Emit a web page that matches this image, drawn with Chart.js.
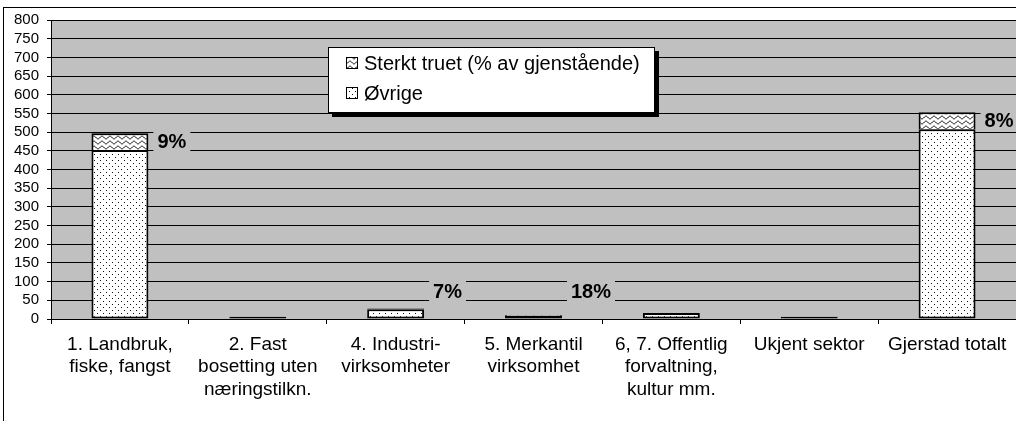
<!DOCTYPE html>
<html><head><meta charset="utf-8">
<script src="https://cdn.jsdelivr.net/npm/chart.js@4/dist/chart.umd.min.js"></script>
<style>html,body{margin:0;padding:0;background:#fff;overflow:hidden}#wrap{width:1016px;height:421px;position:relative}</style>
</head><body><div id="wrap"><canvas id="c" width="1016" height="421"></canvas></div>
<script>
// ---- data ----
const categories = [
  ['1. Landbruk,', 'fiske, fangst'],
  ['2. Fast', 'bosetting uten', 'næringstilkn.'],
  ['4. Industri-', 'virksomheter'],
  ['5. Merkantil', 'virksomhet'],
  ['6, 7. Offentlig', 'forvaltning,', 'kultur mm.'],
  ['Ukjent sektor'],
  ['Gjerstad totalt']
];
const ovrige      = [452, 6, 26, 9, 16, 6, 508];
const sterktTruet = [45, 0, 2, 2, 0, 0, 45];
const pctLabels   = ['9%', '', '7%', '18%', '', '', '8%'];
const nameOvrige  = 'Øvrige';
const nameTruet   = 'Sterkt truet (% av gjenstående)';
const yMin = 0, yMax = 800, yStep = 50;

const FONT = "'Liberation Sans', Arial, sans-serif";
const canvas = document.getElementById('c');
const ctx0 = canvas.getContext('2d');

function makeDots(ctx) {
  const c = document.createElement('canvas'); c.width = 6; c.height = 6;
  const g = c.getContext('2d');
  g.fillStyle = '#fff'; g.fillRect(0, 0, 6, 6);
  g.fillStyle = '#111'; g.fillRect(1, 1, 1, 1); g.fillRect(4, 4, 1, 1);
  return ctx.createPattern(c, 'repeat');
}
function makeWaves(ctx) {
  const w = 8, h = 5;
  const c = document.createElement('canvas'); c.width = w; c.height = h;
  const g = c.getContext('2d');
  g.fillStyle = '#fff'; g.fillRect(0, 0, w, h);
  g.strokeStyle = '#000'; g.lineWidth = 1;
  g.beginPath();
  for (let x = -1; x <= w + 1; x += 0.5) {
    const y = 2.5 + 1.4 * Math.sin(2 * Math.PI * x / w);
    if (x === -1) g.moveTo(x, y); else g.lineTo(x, y);
  }
  g.stroke();
  return ctx.createPattern(c, 'repeat');
}
const dotsPattern = makeDots(ctx0);
const wavePattern = makeWaves(ctx0);

const backgroundPlugin = {
  id: 'bg',
  beforeDraw(chart) {
    const { ctx, chartArea: a } = chart;
    ctx.save();
    ctx.fillStyle = '#fff';
    ctx.fillRect(0, 0, chart.width, chart.height);
    ctx.strokeStyle = '#000'; ctx.lineWidth = 1;
    ctx.strokeRect(3.5, 7.5, 2000, 2000);
    ctx.fillStyle = '#c0c0c0';
    ctx.fillRect(a.left, a.top, a.right - a.left, a.bottom - a.top);
    ctx.restore();
  }
};

const pctPlugin = {
  id: 'pct',
  afterDatasetsDraw(chart) {
    const { ctx } = chart;
    const meta = chart.getDatasetMeta(1);
    const y0 = chart.scales.y.getPixelForValue(0);
    ctx.save();
    ctx.font = 'bold 20px ' + FONT;
    ctx.textBaseline = 'middle';
    ctx.textAlign = 'left';
    pctLabels.forEach((txt, i) => {
      if (!txt) return;
      const el = meta.data[i];
      const center = (el.y + el.base) / 2;
      const y = Math.min(center, y0 - 28);
      const x = el.x + el.width / 2 + 9;
      const tw = ctx.measureText(txt).width;
      ctx.fillStyle = '#c0c0c0';
      ctx.fillRect(x - 4, y - 11, tw + 8, 22);
      ctx.fillStyle = '#000';
      ctx.fillText(txt, x, y + 1);
    });
    ctx.restore();
  }
};

const legendPlugin = {
  id: 'customLegend',
  afterDraw(chart) {
    const { ctx } = chart;
    const bx = 328, by = 47, bw = 327, bh = 66;
    ctx.save();
    ctx.fillStyle = '#000';
    ctx.fillRect(bx + 4, by + 4, bw, bh);
    ctx.fillStyle = '#fff';
    ctx.fillRect(bx, by, bw, bh);
    ctx.strokeStyle = '#000'; ctx.lineWidth = 1;
    ctx.strokeRect(bx + 0.5, by + 0.5, bw - 1, bh - 1);
    const items = chart.data.datasets.slice().reverse();
    ctx.font = '20px ' + FONT;
    ctx.textBaseline = 'middle';
    items.forEach((ds, k) => {
      const cy = by + 16 + k * 30;
      ctx.fillStyle = ds.backgroundColor;
      ctx.fillRect(346, cy - 6, 12, 12);
      ctx.strokeStyle = '#000';
      ctx.strokeRect(346.5, cy - 5.5, 11, 11);
      ctx.fillStyle = '#000';
      ctx.fillText(ds.label, 364, cy + 1);
    });
    ctx.restore();
  }
};

new Chart(canvas, {
  type: 'bar',
  data: {
    labels: categories,
    datasets: [
      { label: nameOvrige, data: ovrige, backgroundColor: dotsPattern, borderColor: '#000', borderWidth: 2, borderSkipped: false },
      { label: nameTruet, data: sterktTruet, backgroundColor: wavePattern, borderColor: '#000', borderWidth: 2 }
    ]
  },
  options: {
    responsive: false,
    devicePixelRatio: 1,
    animation: false,
    layout: { padding: { top: 20, left: 0, right: 0, bottom: 0 } },
    datasets: { bar: { categoryPercentage: 1, barPercentage: 0.413 } },
    plugins: { legend: { display: false }, tooltip: { enabled: false } },
    scales: {
      x: {
        stacked: true,
        grid: { drawOnChartArea: false, color: '#000', tickLength: 5, offset: true },
        border: { color: '#000', width: 1 },
        ticks: { color: '#000', font: { family: FONT, size: 19 }, padding: 9, maxRotation: 0, autoSkip: false },
        afterFit(s) { s.height = 102; }
      },
      y: {
        stacked: true,
        min: yMin, max: yMax,
        grid: { color: '#000', tickLength: 4 },
        border: { color: '#000', width: 1 },
        ticks: { stepSize: yStep, autoSkip: false, color: '#000', font: { family: FONT, size: 15 }, padding: 8 },
        afterFit(s) { s.width = 51; }
      }
    }
  },
  plugins: [backgroundPlugin, pctPlugin, legendPlugin]
});
</script>
</body></html>
